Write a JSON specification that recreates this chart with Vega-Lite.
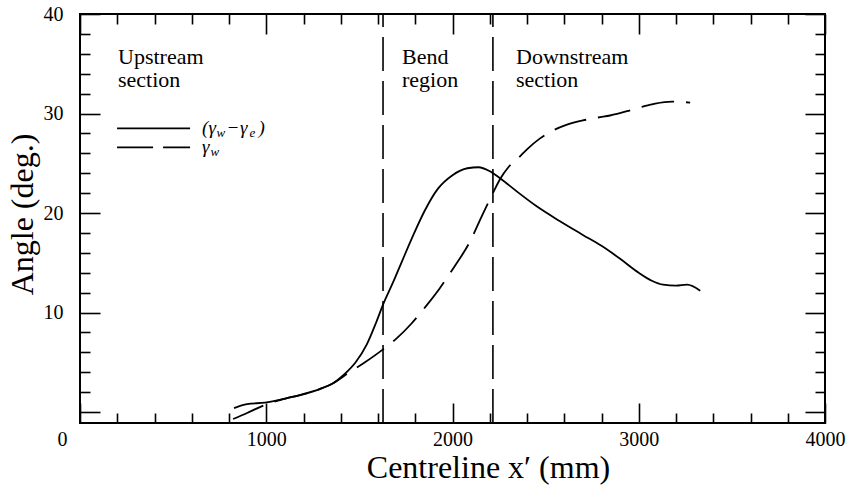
{
  "$schema": "https://vega.github.io/schema/vega-lite/v6.json",
  "width": 745,
  "height": 409,
  "autosize": {"type": "none"},
  "padding": {"left": 80, "top": 14, "right": 24, "bottom": 64},
  "background": "white",
  "config": {
    "view": {"stroke": "black", "strokeWidth": 2},
    "font": "Liberation Serif"
  },
  "datasets": {
    "curves": [
      {"x": 827, "y": 0.4, "s": "diff"}, {"x": 897, "y": 0.8, "s": "diff"}, {"x": 993, "y": 0.95, "s": "diff"},
      {"x": 1112, "y": 1.4, "s": "diff"}, {"x": 1181, "y": 1.7, "s": "diff"}, {"x": 1300, "y": 2.4, "s": "diff"},
      {"x": 1359, "y": 2.9, "s": "diff"}, {"x": 1420, "y": 3.8, "s": "diff"}, {"x": 1480, "y": 5.0, "s": "diff"},
      {"x": 1540, "y": 6.8, "s": "diff"}, {"x": 1590, "y": 9.0, "s": "diff"}, {"x": 1627, "y": 10.8, "s": "diff"},
      {"x": 1680, "y": 13.0, "s": "diff"}, {"x": 1730, "y": 15.2, "s": "diff"}, {"x": 1790, "y": 17.8, "s": "diff"},
      {"x": 1850, "y": 20.2, "s": "diff"}, {"x": 1920, "y": 22.4, "s": "diff"}, {"x": 2000, "y": 23.8, "s": "diff"},
      {"x": 2080, "y": 24.5, "s": "diff"}, {"x": 2140, "y": 24.6, "s": "diff"}, {"x": 2200, "y": 24.2, "s": "diff"},
      {"x": 2255, "y": 23.5, "s": "diff"}, {"x": 2350, "y": 22.1, "s": "diff"}, {"x": 2450, "y": 20.7, "s": "diff"},
      {"x": 2575, "y": 19.2, "s": "diff"}, {"x": 2700, "y": 17.8, "s": "diff"}, {"x": 2800, "y": 16.7, "s": "diff"},
      {"x": 2900, "y": 15.4, "s": "diff"}, {"x": 3000, "y": 14.0, "s": "diff"}, {"x": 3070, "y": 13.2, "s": "diff"},
      {"x": 3131, "y": 12.8, "s": "diff"}, {"x": 3200, "y": 12.7, "s": "diff"},
      {"x": 3260, "y": 12.8, "s": "diff"}, {"x": 3330, "y": 12.2, "s": "diff"},
      {"x": 822, "y": -0.7, "s": "gw"}, {"x": 897, "y": -0.1, "s": "gw"}, {"x": 966, "y": 0.5, "s": "gw"},
      {"x": 1020, "y": 0.9, "s": "gw"}, {"x": 1112, "y": 1.4, "s": "gw"}, {"x": 1181, "y": 1.7, "s": "gw"},
      {"x": 1300, "y": 2.4, "s": "gw"}, {"x": 1359, "y": 2.9, "s": "gw"}, {"x": 1440, "y": 3.9, "s": "gw"},
      {"x": 1530, "y": 5.0, "s": "gw"}, {"x": 1627, "y": 6.3, "s": "gw"}, {"x": 1700, "y": 7.4, "s": "gw"},
      {"x": 1780, "y": 8.9, "s": "gw"}, {"x": 1860, "y": 10.7, "s": "gw"}, {"x": 1930, "y": 12.4, "s": "gw"},
      {"x": 2010, "y": 14.6, "s": "gw"}, {"x": 2090, "y": 17.0, "s": "gw"}, {"x": 2160, "y": 19.8, "s": "gw"},
      {"x": 2217, "y": 22.0, "s": "gw"}, {"x": 2255, "y": 23.4, "s": "gw"}, {"x": 2300, "y": 24.6, "s": "gw"},
      {"x": 2352, "y": 25.5, "s": "gw"}, {"x": 2400, "y": 26.4, "s": "gw"}, {"x": 2470, "y": 27.5, "s": "gw"},
      {"x": 2540, "y": 28.3, "s": "gw"}, {"x": 2604, "y": 28.8, "s": "gw"}, {"x": 2700, "y": 29.3, "s": "gw"},
      {"x": 2782, "y": 29.6, "s": "gw"}, {"x": 2846, "y": 29.8, "s": "gw"}, {"x": 2950, "y": 30.3, "s": "gw"},
      {"x": 3023, "y": 30.7, "s": "gw"}, {"x": 3088, "y": 31.0, "s": "gw"}, {"x": 3179, "y": 31.2, "s": "gw"},
      {"x": 3276, "y": 31.1, "s": "gw"}
    ],
    "vlines": [
      {"x": 1627, "y": -1.1, "y2": 40},
      {"x": 2217, "y": -1.1, "y2": 40}
    ],
    "notes": [
      {"x": 204, "y": 35.7, "text": "Upstream\nsection"},
      {"x": 1729, "y": 35.7, "text": "Bend\nregion"},
      {"x": 2341, "y": 35.7, "text": "Downstream\nsection"}
    ],
    "legendlines": [
      {"x": 199, "x2": 591, "y": 28.5, "s": "diff"},
      {"x": 199, "x2": 591, "y": 26.6, "s": "gw"}
    ],
    "legendmain": [
      {"x": 655, "y": 28.5, "text": "("},
      {"x": 690, "y": 28.5, "text": "γ"},
      {"x": 787, "y": 28.5, "text": "−"},
      {"x": 859, "y": 28.5, "text": "γ"},
      {"x": 958, "y": 28.5, "text": ")"},
      {"x": 655, "y": 26.6, "text": "γ"}
    ],
    "legendsub": [
      {"x": 733, "y": 28.5, "text": "w"},
      {"x": 910, "y": 28.5, "text": "e"},
      {"x": 701, "y": 26.6, "text": "w"}
    ]
  },
  "resolve": {"axis": {"x": "independent", "y": "independent"}},
  "layer": [
    {
      "encoding": {
        "x": {
          "field": "x", "type": "quantitative",
          "scale": {"domain": [0, 4000], "nice": false, "zero": false},
          "axis": {
            "orient": "bottom",
            "values": [0,200,400,600,800,1000,1200,1400,1600,1800,2000,2200,2400,2600,2800,3000,3200,3400,3600,3800,4000],
            "format": "d",
            "domain": false, "grid": false,
            "tickColor": "black", "tickWidth": 1.6,
            "tickSize": {"condition": {"test": "datum.value % 1000 === 0", "value": -20}, "value": -10},
            "labelExpr": "datum.value % 1000 === 0 ? datum.label : ''",
            "labelOffset": {"condition": {"test": "datum.value === 0", "value": -18}, "value": 0},
            "labelFont": "Liberation Serif", "labelFontSize": 20, "labelColor": "black",
            "labelPadding": 26, "labelFlush": false, "labelOverlap": false,
            "title": "Centreline x′ (mm)",
            "titleFont": "Liberation Serif", "titleFontSize": 32, "titleFontWeight": "normal", "titleColor": "black",
            "titleX": 408, "titleY": 54, "titleBaseline": "alphabetic", "titleAlign": "center"
          }
        },
        "y": {
          "field": "y", "type": "quantitative",
          "scale": {"domain": [-1.1, 40], "nice": false, "zero": false},
          "axis": {
            "orient": "left",
            "values": [0,2,4,6,8,10,12,14,16,18,20,22,24,26,28,30,32,34,36,38,40],
            "domain": false, "grid": false,
            "tickColor": "black", "tickWidth": 1.6,
            "tickSize": {"condition": {"test": "datum.value % 10 === 0", "value": -20}, "value": -10},
            "labelExpr": "datum.value % 10 === 0 && datum.value > 0 ? datum.label : ''",
            "labelFont": "Liberation Serif", "labelFontSize": 20, "labelColor": "black",
            "labelPadding": 37, "labelFlush": false, "labelOverlap": false,
            "title": "Angle (deg.)",
            "titleFont": "Liberation Serif", "titleFontSize": 32, "titleFontWeight": "normal", "titleColor": "black",
            "titleX": -58, "titleY": 200, "titleAngle": -90, "titleBaseline": "middle", "titleAlign": "center"
          }
        }
      },
      "layer": [
        {
          "data": {"name": "curves"},
          "transform": [{"filter": "datum.s === 'diff'"}],
          "mark": {"type": "line", "interpolate": "monotone", "color": "black", "strokeWidth": 1.8},
          "encoding": {}
        },
        {
          "data": {"name": "curves"},
          "transform": [{"filter": "datum.s === 'gw'"}],
          "mark": {"type": "line", "interpolate": "monotone", "color": "black", "strokeWidth": 1.8, "strokeDash": [33, 12]},
          "encoding": {}
        },
        {
          "data": {"name": "vlines"},
          "mark": {"type": "rule", "color": "black", "strokeWidth": 1.6, "strokeDash": [34, 10]},
          "encoding": {"y2": {"field": "y2"}}
        },
        {
          "data": {"name": "legendlines"},
          "transform": [{"filter": "datum.s === 'diff'"}],
          "mark": {"type": "rule", "color": "black", "strokeWidth": 1.8},
          "encoding": {"x2": {"field": "x2"}}
        },
        {
          "data": {"name": "legendlines"},
          "transform": [{"filter": "datum.s === 'gw'"}],
          "mark": {"type": "rule", "color": "black", "strokeWidth": 1.8, "strokeDash": [36, 10]},
          "encoding": {"x2": {"field": "x2"}}
        },
        {
          "data": {"name": "notes"},
          "mark": {"type": "text", "align": "left", "baseline": "middle", "lineBreak": "\n", "lineHeight": 23, "font": "Liberation Serif", "fontSize": 22, "color": "black"},
          "encoding": {"text": {"field": "text"}}
        },
        {
          "data": {"name": "legendmain"},
          "mark": {"type": "text", "align": "left", "baseline": "middle", "font": "Liberation Serif", "fontSize": 19, "fontStyle": "italic", "color": "black"},
          "encoding": {"text": {"field": "text"}}
        },
        {
          "data": {"name": "legendsub"},
          "mark": {"type": "text", "align": "left", "baseline": "middle", "dy": 5, "font": "Liberation Serif", "fontSize": 13, "fontStyle": "italic", "color": "black"},
          "encoding": {"text": {"field": "text"}}
        }
      ]
    },
    {
      "data": {"name": "vlines"},
      "mark": {"type": "point", "opacity": 0},
      "encoding": {
        "x": {
          "field": "x", "type": "quantitative",
          "scale": {"domain": [0, 4000], "nice": false, "zero": false},
          "axis": {
            "orient": "top",
            "values": [0,200,400,600,800,1000,1200,1400,1600,1800,2000,2200,2400,2600,2800,3000,3200,3400,3600,3800,4000],
            "domain": false, "grid": false, "labels": false, "title": null,
            "tickColor": "black", "tickWidth": 1.6,
            "tickSize": {"condition": {"test": "datum.value % 1000 === 0", "value": -20}, "value": -10}
          }
        },
        "y": {
          "field": "y", "type": "quantitative",
          "scale": {"domain": [-1.1, 40], "nice": false, "zero": false},
          "axis": {
            "orient": "right",
            "values": [0,2,4,6,8,10,12,14,16,18,20,22,24,26,28,30,32,34,36,38,40],
            "domain": false, "grid": false, "labels": false, "title": null,
            "tickColor": "black", "tickWidth": 1.6,
            "tickSize": {"condition": {"test": "datum.value % 10 === 0", "value": -20}, "value": -10}
          }
        }
      }
    }
  ]
}
